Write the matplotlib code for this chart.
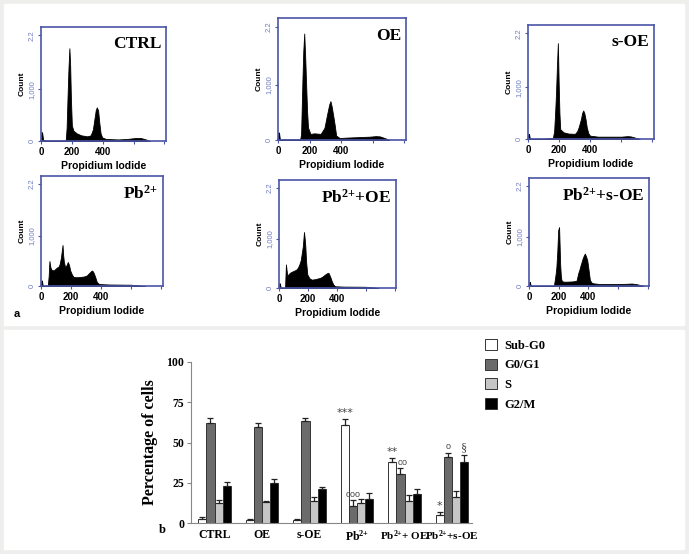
import numpy as np
import matplotlib.pyplot as plt
import matplotlib.transforms as mtransforms
from matplotlib.patches import Rectangle

plt.rcParams['mathtext.fontset'] = 'custom'
plt.rcParams['mathtext.rm'] = 'Liberation Serif:bold'
plt.rcParams['mathtext.bf'] = 'Liberation Serif:bold'
plt.rcParams['mathtext.default'] = 'bf'

# ---- panel a: DNA content histograms (channel, count) ----
ctrl_x = [0, 3, 8, 14, 30, 160, 166, 172, 178, 184, 189, 194, 200, 210, 230, 260, 300, 322, 336, 346, 355, 362, 370, 378, 386, 396, 420, 500, 560, 620, 650, 680, 705]
ctrl_y = [0, 180, 150, 20, 10, 10, 250, 850, 1400, 1790, 1450, 800, 300, 200, 150, 110, 90, 110, 220, 420, 600, 650, 590, 350, 150, 70, 40, 30, 40, 60, 55, 30, 0]

oe_x = [0, 3, 7, 12, 140, 146, 155, 160, 166, 172, 178, 184, 190, 205, 230, 270, 294, 310, 324, 332, 340, 350, 358, 368, 390, 450, 580, 620, 645, 680, 705]
oe_y = [0, 140, 120, 10, 10, 100, 1120, 1600, 1920, 1500, 1000, 520, 225, 110, 120, 110, 220, 450, 640, 700, 600, 430, 285, 80, 36, 45, 60, 70, 65, 30, 0]

soe_x = [0, 3, 7, 12, 100, 160, 168, 174, 180, 186, 192, 197, 202, 207, 228, 260, 302, 316, 326, 340, 348, 355, 362, 370, 378, 388, 398, 450, 600, 640, 660, 690, 718]
soe_y = [0, 100, 90, 5, 5, 20, 150, 480, 870, 1400, 1850, 1100, 500, 190, 130, 105, 100, 150, 230, 380, 500, 550, 500, 380, 220, 110, 65, 45, 45, 55, 50, 25, 0]

pb_x = [0, 3, 7, 12, 45, 51, 56, 62, 68, 75, 84, 95, 106, 115, 123, 132, 138, 143, 147, 152, 161, 170, 178, 186, 194, 205, 216, 240, 260, 285, 304, 320, 337, 345, 352, 362, 370, 380, 392, 450, 600, 690]
pb_y = [0, 115, 90, 5, 5, 200, 500, 380, 330, 320, 310, 340, 370, 380, 430, 560, 700, 820, 620, 480, 370, 420, 480, 420, 310, 230, 180, 175, 180, 190, 210, 260, 310, 290, 245, 160, 83, 50, 38, 30, 25, 0]

pboe_x = [0, 3, 7, 12, 42, 48, 53, 58, 66, 76, 88, 99, 110, 122, 132, 141, 150, 157, 165, 173, 178, 182, 188, 196, 210, 226, 250, 284, 300, 319, 332, 342, 350, 358, 365, 376, 388, 450, 600, 688]
pboe_y = [0, 100, 80, 5, 5, 480, 350, 240, 280, 310, 330, 345, 360, 380, 420, 480, 560, 690, 850, 1140, 1000, 860, 520, 275, 200, 170, 180, 205, 230, 275, 300, 310, 260, 200, 140, 70, 35, 28, 25, 0]

pbsoe_x = [0, 3, 7, 12, 168, 174, 180, 185, 191, 197, 203, 207, 210, 215, 219, 230, 260, 300, 321, 332, 340, 348, 355, 362, 370, 377, 384, 393, 402, 411, 422, 434, 480, 600, 660, 694, 730, 773]
pbsoe_y = [0, 88, 70, 5, 5, 120, 250, 390, 700, 1135, 1200, 800, 460, 200, 120, 88, 88, 95, 110, 257, 330, 420, 490, 560, 620, 660, 610, 527, 330, 120, 70, 54, 40, 40, 45, 50, 35, 0]

hist_labels = ['CTRL', 'OE', 's-OE', 'Pb$^{2{+}}$', 'Pb$^{2{+}}$+OE', 'Pb$^{2{+}}$+s-OE']

# ---- panel b: cell cycle phase percentages (mean, error) ----
groups = ['CTRL', 'OE', 's-OE', 'Pb$^{2{+}}$', 'Pb$^{2{+}}$+ OE', 'Pb$^{2{+}}$+s-OE']
phases = ['Sub-G0', 'G0/G1', 'S', 'G2/M']
sub_g0 = [2.7, 1.7, 1.7, 61.0, 37.7, 5.0]
sub_g0_err = [1.0, 0.8, 1.0, 3.6, 2.5, 1.6]
g0_g1 = [61.9, 59.8, 63.3, 10.8, 30.2, 40.8]
g0_g1_err = [3.1, 2.5, 1.7, 3.5, 3.8, 2.9]
s_phase = [12.2, 12.8, 13.8, 12.6, 13.9, 16.0]
s_phase_err = [2.1, 1.0, 2.6, 2.3, 3.5, 3.9]
g2_m = [22.9, 25.0, 20.9, 14.7, 17.8, 37.9]
g2_m_err = [2.7, 2.1, 1.7, 3.8, 3.1, 4.3]

# significance marks: (group index, phase index, symbol)
marks_group = [3, 3, 4, 4, 5, 5, 5]
marks_phase = [0, 1, 0, 1, 0, 1, 3]
marks_text = ['***', 'ooo', '**', 'oo', '*', 'o', '§']

W, H = 689, 554
fig = plt.figure(figsize=(W / 100, H / 100), dpi=100, facecolor='#eeeeec')

def px_rect(l, t, r, b):
    return [l / W, 1 - b / H, (r - l) / W, (b - t) / H]

# white backgrounds of the two panels
for (l, t, r, b) in [(4, 4, 684, 325), (4, 330, 684, 549)]:
    fig.patches.append(Rectangle((l / W, 1 - b / H), (r - l) / W, (b - t) / H,
                                 transform=fig.transFigure, color='white', zorder=-5))

hist_data = [(ctrl_x, ctrl_y), (oe_x, oe_y), (soe_x, soe_y),
             (pb_x, pb_y), (pboe_x, pboe_y), (pbsoe_x, pbsoe_y)]
hist_boxes = [(41, 27, 166, 141), (278, 18, 406, 140), (528, 25, 654, 139),
              (41, 176, 163, 286), (279, 180, 396, 288), (529, 178, 649, 286)]

blue = '#4a55a8'
for (hx, hy), box, lab in zip(hist_data, hist_boxes, hist_labels):
    ax = fig.add_axes(px_rect(*box))
    ax.fill_between(hx, hy, 0, color='black', lw=0.6)
    ax.set_xlim(0, 810)
    ax.set_ylim(0, 2200)
    for sp in ax.spines.values():
        sp.set_color(blue)
        sp.set_linewidth(1.2)
    ax.set_xticks([0, 200, 400, 600, 800])
    ax.set_xticklabels(['0', '200', '400', '', ''], fontsize=7, fontweight='bold',
                       family='Liberation Sans')
    ax.set_yticks([0, 1000, 2040])
    ax.set_yticklabels(['0', '1,000', '2.2'], rotation=90, va='center', fontsize=5.5,
                       color='#6f7cc0', family='Liberation Sans')
    ax.tick_params(length=2, width=0.8, color=blue, pad=2)
    ax.set_ylabel('Count', fontsize=6, fontweight='bold', family='Liberation Sans', labelpad=2)
    ax.set_xlabel('Propidium Iodide', fontsize=7.5, fontweight='bold',
                  family='Liberation Sans', labelpad=3)
    ax.text(0.96, 0.92, lab, transform=ax.transAxes, ha='right', va='top',
            fontsize=12.5, fontweight='bold', family='Liberation Serif')

fig.text(17 / W, 1 - 314 / H, 'a', fontsize=8, fontweight='bold', family='Liberation Sans',
         ha='center', va='center')

# ---- bar chart ----
bx = fig.add_axes(px_rect(191, 362, 472, 523))
x = np.arange(len(groups))
bw = 0.173
series = [sub_g0, g0_g1, s_phase, g2_m]
errs = [sub_g0_err, g0_g1_err, s_phase_err, g2_m_err]
colors = ['white', '#6b6b6b', '#c6c6c6', 'black']
handles = []
for i, (vals, er, c) in enumerate(zip(series, errs, colors)):
    pos = x + (i - 1.5) * bw
    h = bx.bar(pos, vals, bw, color=c, edgecolor='#333333', linewidth=0.7, label=phases[i],
               yerr=[np.zeros(len(er)), er], capsize=2,
               error_kw=dict(ecolor='#222222', elinewidth=0.9, capthick=0.9))
    handles.append(h)

for g, p, t in zip(marks_group, marks_phase, marks_text):
    top = series[p][g] + errs[p][g]
    if t == '§':
        fs, fam = 9, 'Liberation Serif'
    elif 'o' in t:
        fs, fam = 6.5, 'Liberation Sans'
    else:
        fs, fam = 8, 'DejaVu Sans'
    bx.text(x[g] + (p - 1.5) * bw + (0.05 if t == 'oo' else 0), top + 0.8, t,
            ha='center', va='bottom', fontsize=fs, color='#444444', family=fam)

bx.set_xlim(-0.495, 5.42)
bx.set_ylim(0, 100)
bx.set_yticks([0, 25, 50, 75, 100])
bx.set_xticks(x)
bx.set_xticklabels(groups)
for lab in bx.get_xticklabels() + bx.get_yticklabels():
    lab.set_family('Liberation Serif')
    lab.set_fontweight('bold')
    lab.set_fontsize(8.5)
xl = bx.get_xticklabels()
xl[4].set_fontsize(8)
xl[5].set_fontsize(8)
xl[4].set_transform(xl[4].get_transform() + mtransforms.ScaledTranslation(-3 / 100, 0, fig.dpi_scale_trans))
xl[5].set_transform(xl[5].get_transform() + mtransforms.ScaledTranslation(5 / 100, 0, fig.dpi_scale_trans))
bx.tick_params(axis='x', length=0, pad=4)
bx.tick_params(axis='y', length=3, color='#888888', pad=2)
bx.spines['top'].set_visible(False)
bx.spines['right'].set_visible(False)
bx.spines['left'].set_color('#888888')
bx.spines['bottom'].set_color('#888888')
bx.set_ylabel('Percentage of cells', fontsize=11.5, fontweight='bold',
              family='Liberation Serif', labelpad=6)

fig.text(162 / W, 1 - 530 / H, 'b', fontsize=9, fontweight='bold', family='Liberation Serif',
         ha='center', va='center')

fig.legend(handles=handles, labels=phases, loc='upper left',
           bbox_to_anchor=(476 / W, 1 - 330 / H), frameon=False,
           prop=dict(family='Liberation Serif', weight='bold', size=9),
           handlelength=1.0, handleheight=1.0, labelspacing=0.55, handletextpad=0.6,
           borderpad=0.2)

fig.savefig('out.png', dpi=100, facecolor=fig.get_facecolor())
